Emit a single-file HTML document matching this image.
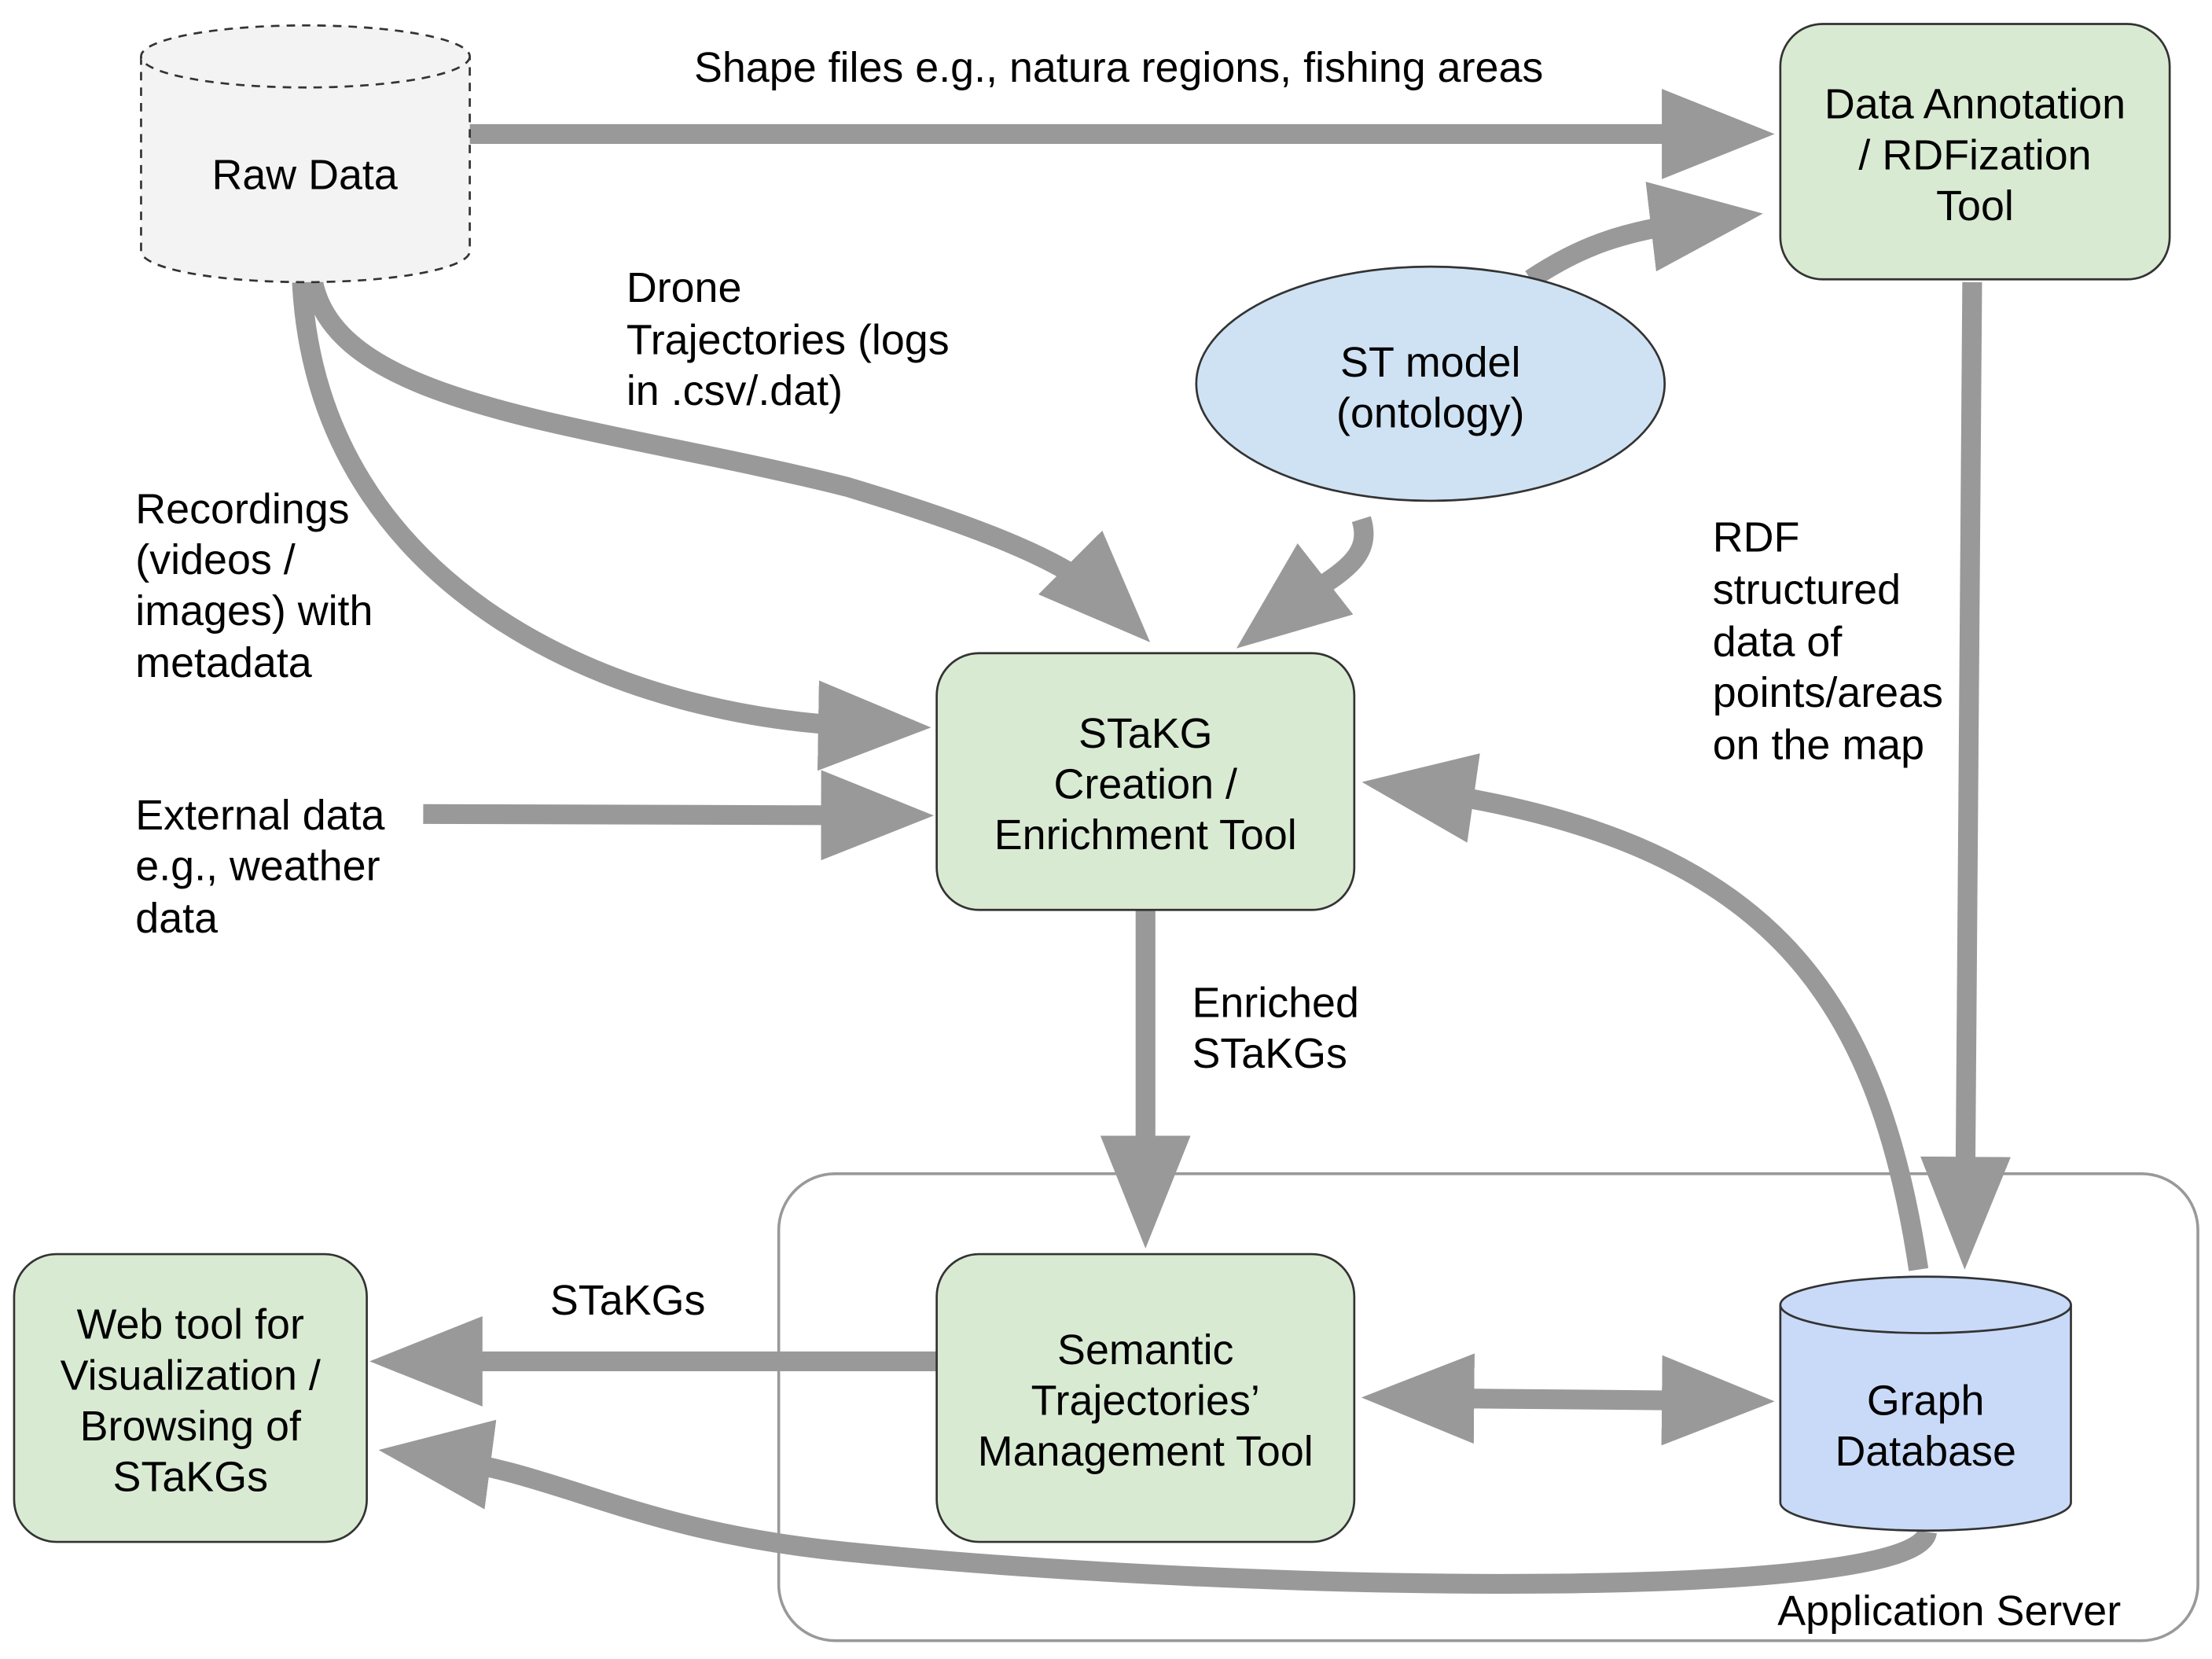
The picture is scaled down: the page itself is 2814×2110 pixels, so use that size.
<!DOCTYPE html>
<html><head><meta charset="utf-8"><style>
html,body{margin:0;padding:0;background:#fff;}
svg{display:block;}
text{font-family:"Liberation Sans",Arial,sans-serif;font-size:30px;fill:#000;}
</style></head><body>
<svg width="2814" height="2110" viewBox="0 0 1568 1176" preserveAspectRatio="none" xmlns="http://www.w3.org/2000/svg">
<defs>
<marker id="a" viewBox="0 0 80 64" refX="40" refY="32" markerWidth="80" markerHeight="64" markerUnits="userSpaceOnUse" orient="auto">
<path d="M0,0 L80,32 L0,64 Z" fill="#999"/></marker>
<marker id="s" viewBox="0 0 80 64" refX="40" refY="32" markerWidth="80" markerHeight="64" markerUnits="userSpaceOnUse" orient="auto">
<path d="M80,0 L0,32 L80,64 Z" fill="#999"/></marker>
</defs>
<rect x="552" y="832" width="1006" height="331" rx="40" fill="none" stroke="#999" stroke-width="2"/>
<text x="1260" y="1152">Application Server</text>

<g fill="none" stroke="#999" stroke-width="14">
<path d="M333,95 L1218,95" marker-end="url(#a)"/>
<path d="M1085,198 C1120,175 1150,163 1210,156" marker-end="url(#a)"/>
<path d="M222,200 C240,290 420,300 600,345 C700,375 760,400 787,427" marker-end="url(#a)"/>
<path d="M214,200 C225,420 440,512 620,515" marker-end="url(#a)"/>
<path d="M300,577 L622,578" marker-end="url(#a)"/>
<path d="M965,368 C975,400 940,410 908,435" marker-end="url(#a)"/>
<path d="M1398,200 L1393,860" marker-end="url(#a)"/>
<path d="M1360,900 C1330,700 1250,595 1005,560" marker-end="url(#a)"/>
<path d="M812,645 L812,845" marker-end="url(#a)"/>
<path d="M664,965 L302,965" marker-end="url(#a)"/>
<path d="M1005,991 L1218,993" marker-start="url(#s)" marker-end="url(#a)"/>
<path d="M1366,1086 C1360,1135 900,1130 600,1100 C450,1085 400,1045 308,1033" marker-end="url(#a)"/>
</g>

<g stroke="#333" stroke-width="1.5" stroke-dasharray="6,5" fill="#f3f3f3">
<path d="M100,40 L100,178 A116.5,22 0 0 0 333,178 L333,40"/>
<ellipse cx="216.5" cy="40" rx="116.5" ry="22"/>
</g>
<text x="216" y="134" text-anchor="middle">Raw Data</text>

<g stroke="#333" stroke-width="1.5">
<rect x="1262" y="17" width="276" height="181" rx="30" fill="#d9ead3"/>
<ellipse cx="1014" cy="272" rx="166" ry="83" fill="#cfe2f3"/>
<rect x="664" y="463" width="296" height="182" rx="30" fill="#d9ead3"/>
<rect x="664" y="889" width="296" height="204" rx="30" fill="#d9ead3"/>
<rect x="10" y="889" width="250" height="204" rx="30" fill="#d9ead3"/>
<path d="M1262,925 L1262,1065 A103,20 0 0 0 1468,1065 L1468,925" fill="#c9daf8"/>
<ellipse cx="1365" cy="925" rx="103" ry="20" fill="#c9daf8"/>
</g>

<g text-anchor="middle">
<text x="1400" y="84">Data Annotation</text><text x="1400" y="120">/ RDFization</text><text x="1400" y="156">Tool</text>
<text x="1014" y="267">ST model</text><text x="1014" y="303">(ontology)</text>
<text x="812" y="530">STaKG</text><text x="812" y="566">Creation /</text><text x="812" y="602">Enrichment Tool</text>
<text x="812" y="967">Semantic</text><text x="812" y="1003">Trajectories’</text><text x="812" y="1039">Management Tool</text>
<text x="135" y="949">Web tool for</text><text x="135" y="985">Visualization /</text><text x="135" y="1021">Browsing of</text><text x="135" y="1057">STaKGs</text>
<text x="1365" y="1003">Graph</text><text x="1365" y="1039">Database</text>
</g>

<text x="492" y="58">Shape files e.g., natura regions, fishing areas</text>
<text x="444" y="214">Drone</text><text x="444" y="251">Trajectories (logs</text><text x="444" y="287">in .csv/.dat)</text>
<text x="96" y="371">Recordings</text><text x="96" y="407">(videos /</text><text x="96" y="443">images) with</text><text x="96" y="480">metadata</text>
<text x="96" y="588">External data</text><text x="96" y="624">e.g., weather</text><text x="96" y="661">data</text>
<text x="1214" y="391">RDF</text><text x="1214" y="428">structured</text><text x="1214" y="465">data of</text><text x="1214" y="501">points/areas</text><text x="1214" y="538">on the map</text>
<text x="845" y="721">Enriched</text><text x="845" y="757">STaKGs</text>
<text x="390" y="932">STaKGs</text>
</svg>
</body></html>
